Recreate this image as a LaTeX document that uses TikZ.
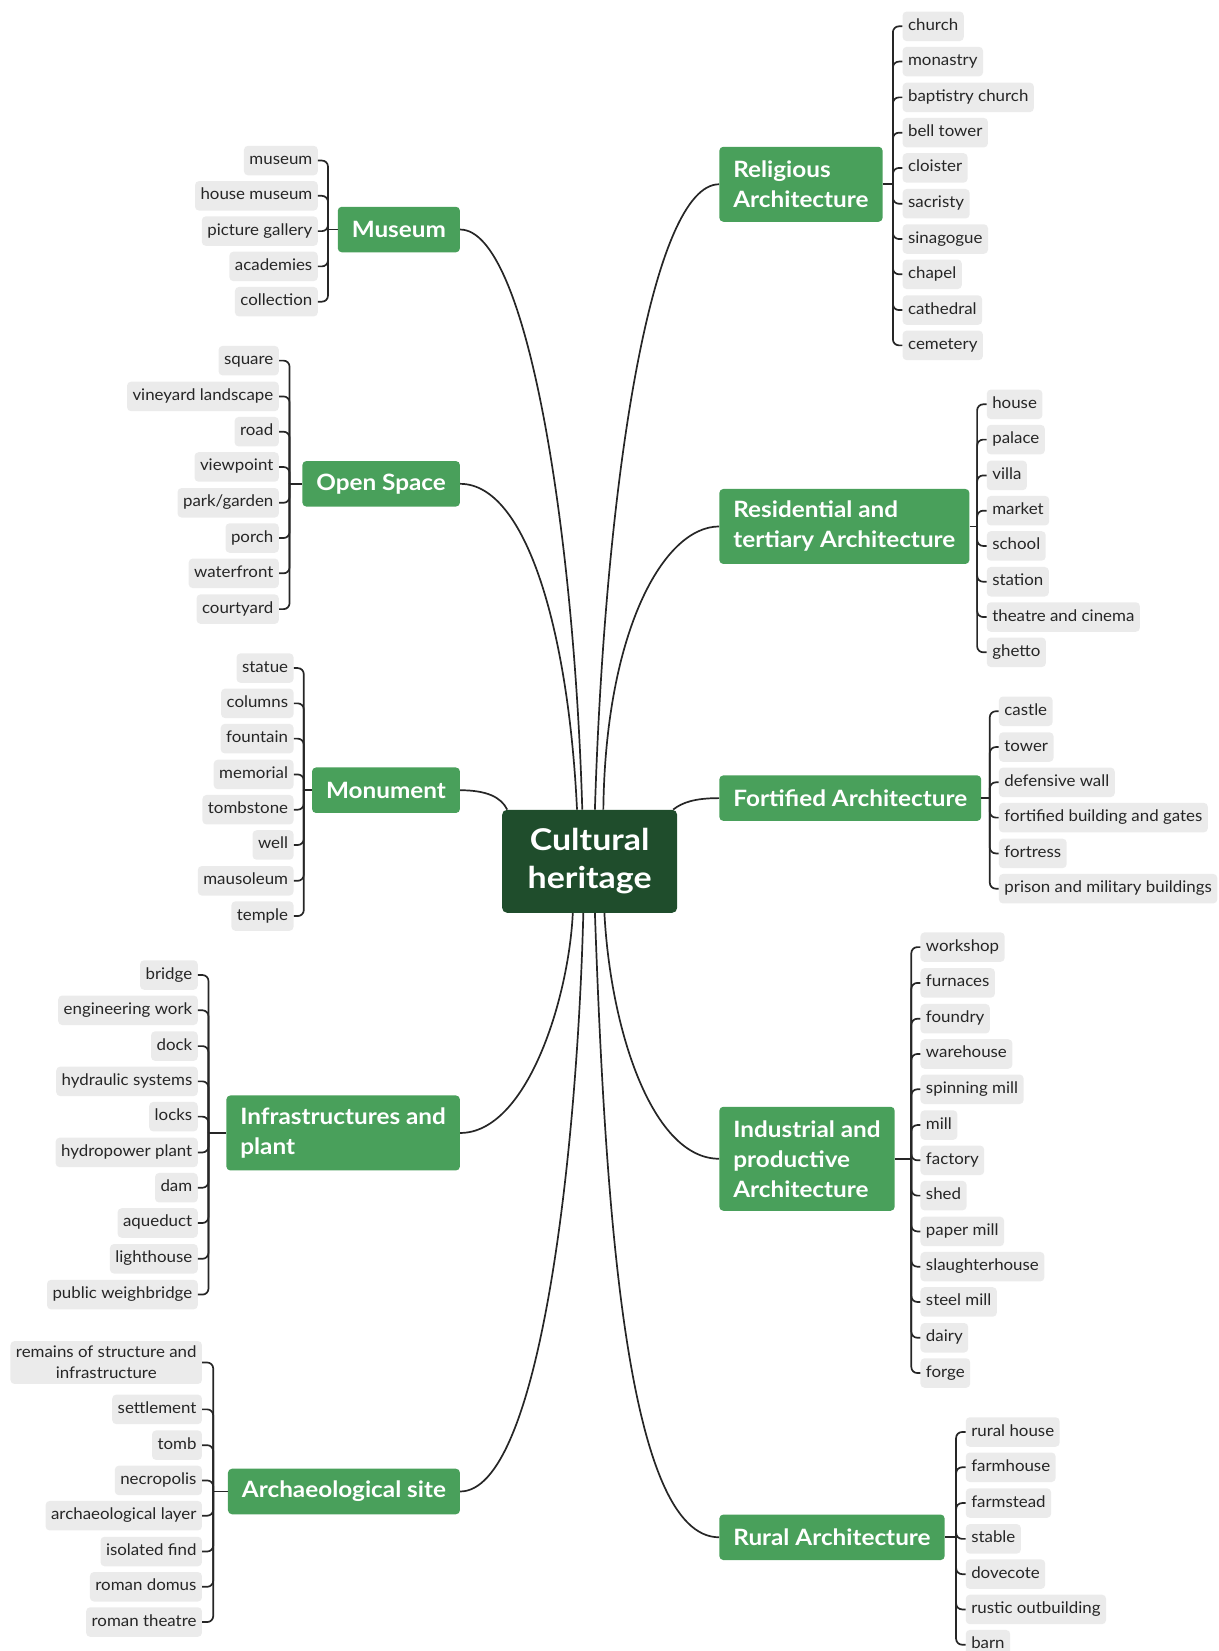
\documentclass[tikz,border=0pt]{standalone}
\usepackage{fontspec}
\setmainfont{Lato}
\newfontfamily\leaffont[FakeStretch=1.055]{Lato}
\newfontfamily\topicfont[FakeStretch=1.08]{Lato}
\newfontfamily\rootfont[FakeStretch=1.13]{Lato}
\usetikzlibrary{calc}
\definecolor{maingreen}{HTML}{49A05B}
\definecolor{darkgreen}{HTML}{1F4D2C}
\definecolor{leafgray}{HTML}{EBEBEB}
\definecolor{linec}{HTML}{262626}
\definecolor{leaftext}{HTML}{262626}
\tikzset{
  leaf/.style={fill=leafgray, rounded corners=4pt, text=leaftext, font=\leaffont\fontsize{16}{19}\selectfont,
    inner xsep=5.5pt, inner ysep=0pt, minimum height=29.5pt, text height=11.5pt, text depth=3.5pt},
  leaftwo/.style={fill=leafgray, rounded corners=4pt, text=leaftext, font=\leaffont\fontsize{16}{21}\selectfont,
    inner xsep=5.5pt, inner ysep=5pt, align=center},
  topic/.style={fill=maingreen, rounded corners=4pt, text=white, font=\topicfont\bfseries\fontsize{22.5}{30}\selectfont,
    inner xsep=14pt, inner ysep=0pt, align=left},
  root/.style={fill=darkgreen, rounded corners=5pt, text=white, font=\rootfont\bfseries\fontsize{30}{38}\selectfont,
    align=center, minimum width=175pt, minimum height=103pt},
  link/.style={draw=linec, line width=1.7pt},
  br/.style={draw=linec, line width=1.7pt, rounded corners=6pt},
}
% left group: #1 topic, #2 topic y, #3 leaf right x, #4 bracket x, #5 list y/text
\newcommand\leftgroup[5]{%
  \draw[link] (#1.west) -- (#4,#2);
  \foreach \yy/\leaftxt [count=\k] in {#5} {
    \node[leaf, anchor=east] (#1-\k) at (#3,\yy+1.5) {\leaftxt};
    \draw[br] (#4,#2) |- (#1-\k.east);
  }
}
% right group: #1 topic, #2 topic y, #3 leaf left x, #4 bracket x, #5 list
\newcommand\rightgroup[5]{%
  \draw[link] (#1.east) -- (#4,#2);
  \foreach \yy/\leaftxt [count=\k] in {#5} {
    \node[leaf, anchor=west] (#1-\k) at (#3,\yy+1.5) {\leaftxt};
    \draw[br] (#4,#2) |- (#1-\k.west);
  }
}
\begin{document}
\begin{tikzpicture}[x=1.0527pt, y=-1.0527pt]
\useasboundingbox (0,0) rectangle (1157,1568);

% root and topics
\node[root] (root) at (560,818) {Cultural\\heritage};
\node[topic, anchor=east, minimum height=45.5pt] (museum) at (437,218) {Museum};
\node[topic, anchor=east, minimum height=45.5pt] (open) at (437,459.5) {Open Space};
\node[topic, anchor=east, minimum height=45.5pt] (monu) at (437,750.5) {Monument};
\node[topic, anchor=east, minimum height=75pt] (infra) at (437,1076) {Infrastructures and\\plant};
\node[topic, anchor=east, minimum height=45.5pt] (arch) at (437,1416.5) {Archaeological site};
\node[topic, anchor=west, minimum height=75pt] (relig) at (683,175) {Religious\\Architecture};
\node[topic, anchor=west, minimum height=75pt] (resid) at (683,500) {Residential and\\tertiary Architecture};
\node[topic, anchor=west, minimum height=45.5pt] (fort) at (683,758) {Fortified Architecture};
\node[topic, anchor=west, minimum height=104pt] (indus) at (683,1100.5) {Industrial and\\productive\\Architecture};
\node[topic, anchor=west, minimum height=45.5pt] (rural) at (683,1460) {Rural Architecture};

% curved connectors to root
\draw[link] (museum.east) .. controls (500,218) and (545,500) .. ($(root.north)+(-7,0)$);
\draw[link] (open.east) .. controls (500,459.5) and (540,600) .. ($(root.north)+(-12,0)$);
\draw[link] (monu.east) .. controls (462,750.5) and (476,757) .. ($(root.north west)+(5,0)$);
\draw[link] (relig.west) .. controls (620,175) and (575,450) .. ($(root.north)+(5,0)$);
\draw[link] (resid.west) .. controls (630,500) and (575,600) .. ($(root.north)+(13,0)$);
\draw[link] (fort.west) .. controls (660,758) and (648,762) .. ($(root.north east)+(-4,0)$);
\draw[link] (infra.east) .. controls (500,1076) and (540,950) .. ($(root.south)+(-16,0)$);
\draw[link] (arch.east) .. controls (512,1416.5) and (548,1100) .. ($(root.south)+(-6,0)$);
\draw[link] (indus.west) .. controls (620,1100.5) and (580,980) .. ($(root.south)+(14,0)$);
\draw[link] (rural.west) .. controls (595,1460) and (575,1150) .. ($(root.south)+(5,0)$);

% leaves, left side
\leftgroup{museum}{218}{302}{311.5}{151/museum, 184.5/house museum, 218/picture gallery, 251.5/academies, 285/collection}
\leftgroup{open}{459.5}{265}{275}{341/square, 375/vineyard landscape, 408.5/road, 442/viewpoint, 476/{park/garden}, 509.5/porch, 543/waterfront, 577/courtyard}
\leftgroup{monu}{750.5}{279}{288.5}{633/statue, 666.5/columns, 700/fountain, 734/memorial, 767.5/tombstone, 801/well, 835/mausoleum, 868.5/temple}
\leftgroup{infra}{1076}{188}{198}{924.5/bridge, 958/engineering work, 992/dock, 1025.5/hydraulic systems, 1059/locks, 1093/hydropower plant, 1126.5/dam, 1160/aqueduct, 1194/lighthouse, 1228/public weighbridge}
\leftgroup{arch}{1416.5}{192}{202.5}{1337/settlement, 1371/tomb, 1404.5/necropolis, 1438/archaeological layer, 1472/isolated find, 1505.5/roman domus, 1539/roman theatre}
\node[leaftwo, anchor=east] (arch-0) at (192,1294) {remains of structure and\\infrastructure};
\draw[br] (202.5,1416.5) |- (arch-0.east);

% leaves, right side
\rightgroup{relig}{175}{857}{848}{23.5/church, 57/monastry, 91/baptistry church, 124.5/bell tower, 158/cloister, 192/sacristy, 225.5/sinagogue, 259/chapel, 293/cathedral, 326.5/cemetery}
\rightgroup{resid}{500}{937}{928}{382.5/house, 416/palace, 450/villa, 483.5/market, 517/school, 551/station, 584.5/theatre and cinema, 618/ghetto}
\rightgroup{fort}{758}{948.5}{940}{674/castle, 708/tower, 741.5/defensive wall, 775/fortified building and gates, 809/fortress, 842.5/prison and military buildings}
\rightgroup{indus}{1100.5}{874}{865.5}{898/workshop, 932/furnaces, 966/foundry, 999.5/warehouse, 1033/spinning mill, 1067/mill, 1100.5/factory, 1134/shed, 1168/paper mill, 1201.5/slaughterhouse, 1235/steel mill, 1269/dairy, 1302.5/forge}
\rightgroup{rural}{1460}{917}{908}{1358.5/rural house, 1392/farmhouse, 1426/farmstead, 1460/stable, 1493.5/dovecote, 1527/rustic outbuilding, 1560.5/barn}
\end{tikzpicture}
\end{document}
